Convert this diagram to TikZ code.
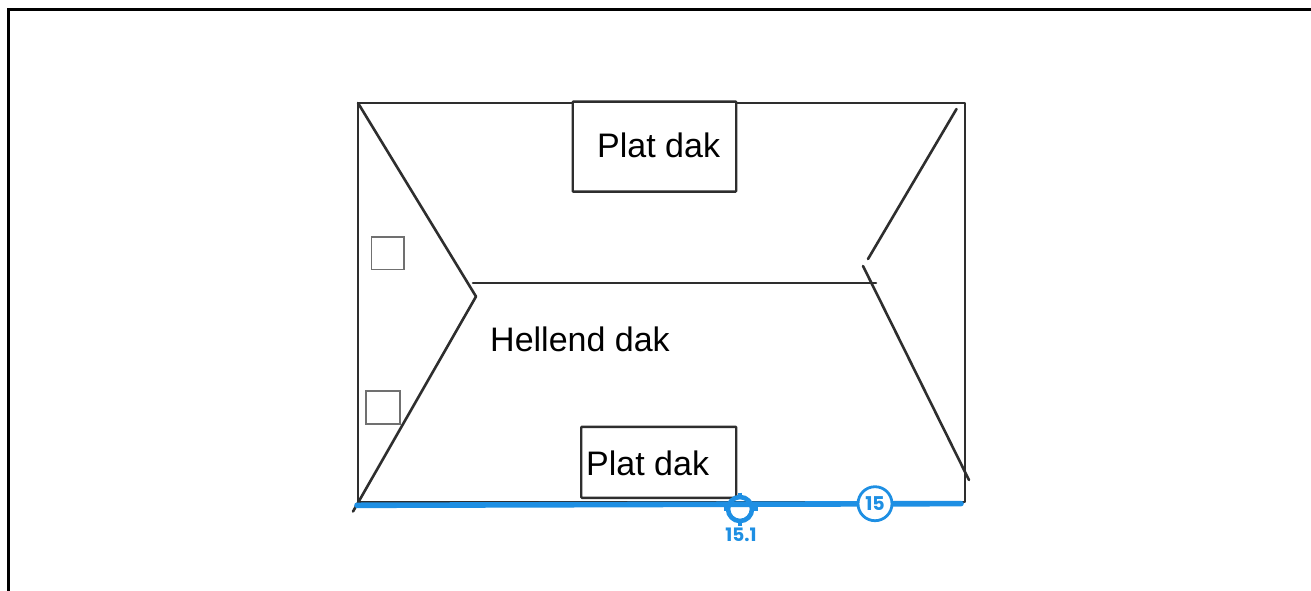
\documentclass[tikz,border=0pt]{standalone}
\usepackage{fontspec}
\setmainfont{Liberation Sans}
\newfontfamily\markfont{Poppins}[Scale=1]
\definecolor{roofline}{HTML}{2E2E2E}
\definecolor{markblue}{HTML}{1E8FE3}
\definecolor{sqgray}{HTML}{707070}
\tikzset{
  roof/.style={draw=roofline,line width=2.6pt,line cap=round,line join=round},
  boxnode/.style={draw=roofline,line width=2.4pt,rounded corners=0.8pt,fill=white,inner sep=0pt,outer sep=0pt,anchor=north west},
  sqnode/.style={draw=sqgray,line width=1.6pt,inner sep=0pt,outer sep=0pt,anchor=north west},
  lab/.style={anchor=base west,inner sep=0pt,text=black,font=\fontsize{34}{36}\selectfont},
  blueline/.style={draw=markblue,line width=5.6pt,line cap=round},
  ringnode/.style={circle,draw=markblue,line width=2.8pt,fill=white,inner sep=0pt,outer sep=0pt,minimum size=34pt,text=markblue,font=\markfont\bfseries\fontsize{19}{19}\selectfont},
  targetnode/.style={circle,draw=markblue,line width=4.6pt,inner sep=0pt,outer sep=0pt,minimum size=24pt},
  tick/.style={draw=markblue,line width=3.4pt},
  marklab/.style={text=markblue,inner sep=0pt,font=\markfont\bfseries\fontsize{18.5}{19}\selectfont}
}
\begin{document}
\begin{tikzpicture}[x=1pt,y=-1pt]
\useasboundingbox (0,0) rectangle (1311,590);
\fill[white] (0,0) rectangle (1311,590);
% outer frame
\coordinate (fa) at (8.5,591);
\coordinate (fb) at (8.5,9.5);
\coordinate (fc) at (1312,9.5);
\draw[black,line width=3pt] (fa) -- (fb) -- (fc);
% house outline
\coordinate (tl) at (358,103);
\coordinate (tr) at (965,103);
\coordinate (br) at (965,502);
\coordinate (bl) at (358,502);
\draw[roof] (tl) -- (tr) -- (br) -- (bl) -- cycle;
% hips
\coordinate (apex) at (476,296.5);
\coordinate (lowend) at (353,511.5);
\draw[roof] (tl) -- (apex) -- (lowend);
\coordinate (ra) at (473,283);
\coordinate (rb) at (876,283);
\draw[roof] (ra) -- (rb);
\coordinate (hua) at (956.5,109);
\coordinate (hub) at (868,259);
\draw[roof] (hua) -- (hub);
\coordinate (hla) at (863,266);
\coordinate (hlb) at (969,480);
\draw[roof] (hla) -- (hlb);
% boxes
\node[boxnode,minimum width=163.5pt,minimum height=90pt] (topbox) at (572.7,101.6) {};
\node[boxnode,minimum width=155pt,minimum height=71pt] (botbox) at (581.2,426.8) {};
\node[lab] (toplab) at (597,157) {Plat dak};
\node[lab] (botlab) at (586,475) {Plat dak};
\node[lab] (midlab) at (490,351) {Hellend dak};
% small squares
\node[sqnode,minimum width=32.5pt,minimum height=32.5pt] (sqa) at (371.5,236.8) {};
\node[sqnode,minimum width=34pt,minimum height=33pt] (sqb) at (365.8,391) {};
% blue overlay
\coordinate (bluea) at (357,505.3);
\coordinate (blueb) at (961,503.6);
\draw[blueline] (bluea) -- (blueb);
\node[ringnode] (ring) at (875,503.7) {15};
\node[targetnode] (target) at (740,509) {};
\coordinate (tt) at (740,492.5);
\coordinate (tb) at (740,526);
\coordinate (tle) at (723.5,509);
\coordinate (tri) at (757.5,509);
\draw[tick] (tt) -- (target.north);
\draw[tick] (tb) -- (target.south);
\draw[tick] (tle) -- (target.west);
\draw[tick] (tri) -- (target.east);
\node[marklab] (tlabel) at (741,534.5) {15.1};
\end{tikzpicture}
\end{document}
